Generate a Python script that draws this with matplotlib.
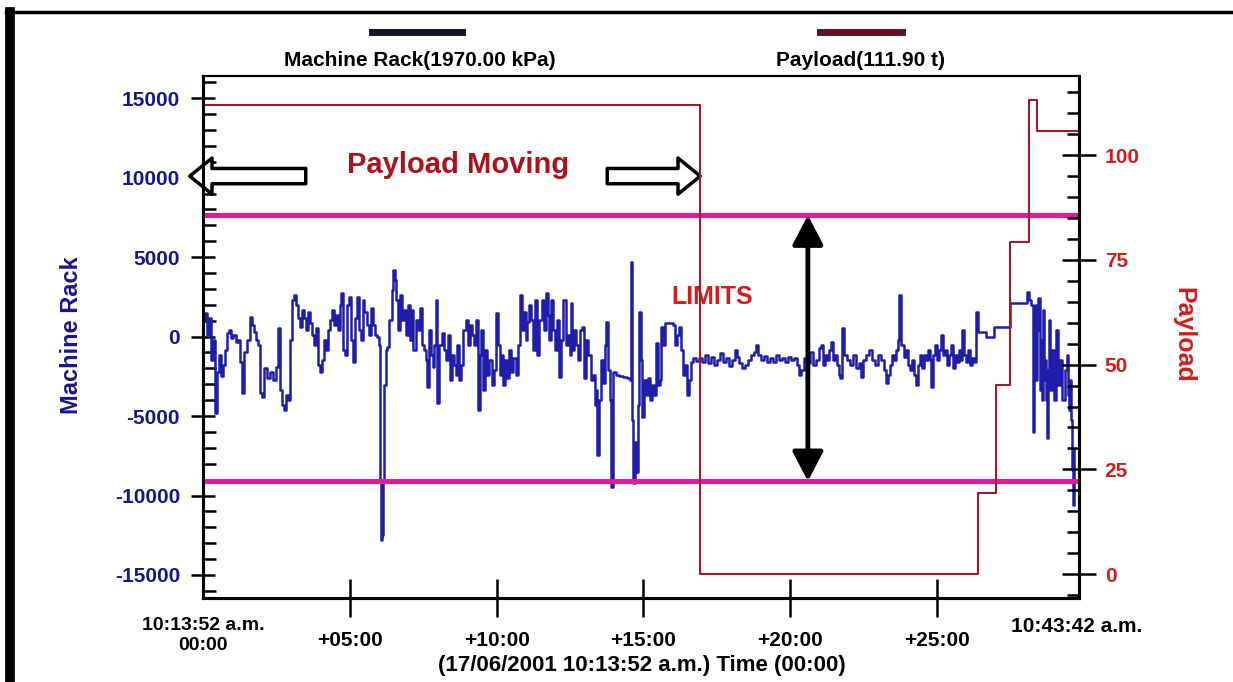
import matplotlib
matplotlib.use('Agg')
import matplotlib.pyplot as plt
from matplotlib.lines import Line2D
from matplotlib.ticker import MultipleLocator

plt.rcParams['font.family'] = ['Liberation Sans', 'DejaVu Sans']
plt.rcParams['font.weight'] = 'bold'
plt.rcParams['axes.unicode_minus'] = False

# machine rack pressure, time in seconds after 10:13:52, value in kPa
rack_t = [
    0, 4, 8, 12, 16, 20, 24, 29, 33, 37,
    41, 45, 49, 53, 57, 61, 67, 71, 75, 80,
    84, 90, 96, 100, 104, 108, 112, 116, 120, 124,
    131, 137, 143, 149, 153, 157, 161, 165, 169, 173,
    177, 182, 186, 190, 194, 198, 202, 206, 210, 214,
    218, 222, 226, 231, 235, 239, 243, 247, 251, 255,
    259, 263, 267, 271, 275, 279, 282, 286, 290, 294,
    298, 302, 306, 310, 314, 318, 322, 326, 330, 335,
    339, 343, 347, 351, 355, 359, 361, 363, 365, 367,
    369, 373, 377, 381, 386, 388, 392, 394, 398, 402,
    406, 410, 414, 418, 422, 426, 430, 435, 439, 443,
    447, 451, 455, 457, 461, 465, 469, 473, 477, 479,
    483, 488, 492, 496, 500, 504, 508, 512, 516, 520,
    524, 528, 532, 537, 541, 545, 549, 553, 557, 561,
    565, 569, 573, 577, 581, 585, 590, 594, 598, 602,
    606, 610, 614, 618, 622, 626, 630, 634, 639, 643,
    647, 651, 655, 659, 663, 667, 671, 675, 679, 683,
    687, 692, 696, 700, 704, 708, 712, 716, 720, 724,
    728, 732, 736, 741, 745, 749, 751, 755, 759, 763,
    767, 771, 775, 779, 783, 787, 792, 796, 800, 804,
    806, 810, 814, 818, 822, 824, 828, 832, 834, 838,
    843, 851, 859, 867, 873, 875, 877, 879, 883, 885,
    889, 891, 896, 898, 902, 906, 910, 914, 918, 922,
    926, 930, 934, 936, 940, 945, 953, 961, 965, 969,
    973, 977, 981, 985, 989, 993, 998, 1002, 1008, 1014,
    1020, 1026, 1032, 1038, 1044, 1051, 1057, 1063, 1069, 1075,
    1081, 1087, 1091, 1095, 1102, 1108, 1114, 1120, 1126, 1130,
    1134, 1140, 1146, 1153, 1159, 1165, 1171, 1177, 1183, 1189,
    1195, 1202, 1208, 1214, 1218, 1222, 1228, 1234, 1240, 1246,
    1253, 1259, 1263, 1267, 1271, 1275, 1279, 1283, 1287, 1291,
    1295, 1299, 1302, 1306, 1310, 1316, 1322, 1328, 1334, 1340,
    1344, 1348, 1355, 1361, 1367, 1373, 1379, 1385, 1391, 1395,
    1399, 1404, 1408, 1412, 1416, 1420, 1422, 1426, 1432, 1436,
    1440, 1444, 1448, 1452, 1457, 1461, 1465, 1469, 1473, 1477,
    1481, 1485, 1487, 1491, 1495, 1499, 1503, 1508, 1512, 1516,
    1520, 1524, 1528, 1532, 1536, 1540, 1544, 1548, 1550, 1554,
    1559, 1563, 1567, 1571, 1575, 1579, 1583, 1599, 1616, 1648,
    1650, 1681, 1683, 1687, 1691, 1695, 1697, 1699, 1701, 1703,
    1705, 1707, 1710, 1712, 1714, 1716, 1718, 1720, 1722, 1724,
    1726, 1728, 1730, 1734, 1738, 1742, 1744, 1748, 1752, 1756,
    1761, 1765, 1767, 1769, 1771, 1773, 1775, 1777, 1779,
]
rack_kpa = [
    1040, 1480, 90, 1160, -1480, -220, -4810, -2230, -1160, -2480,
    -1790, -850, 220, 410, -90, 90, -350, -220, -1600, -3550,
    -970, -220, 1230, 720, 280, -220, -530, -3550, -3810, -1980,
    -2610, -2230, -2740, -1920, 530, -3370, -4310, -4620, -3680, -3990,
    -220, 2300, 2610, 1980, 1160, 600, 1670, 1160, 410, 1540,
    850, 90, -530, 530, -1790, -2230, -1480, -220, -850, 410,
    1040, 1670, 720, 1350, 410, 1980, 2740, -850, -1160, 1980,
    2480, -220, -1600, 1160, 2480, 410, -220, 2300, 1540, 720,
    90, 1790, 720, 90, -30, -530, -9020, -12800, -12490, -9020,
    -3050, -850, -660, 1040, 2920, 4180, 3550, 2300, 410, 2610,
    1040, 1670, 90, 1980, -220, 1670, -850, 1040, 410, 1790,
    -530, -850, -1480, -3180, 410, -1160, -1920, -530, 2300, -4180,
    -530, 220, -850, -1480, 90, -2740, -1160, -1790, -2420, -530,
    -2740, -1790, 410, 1040, -530, 720, 90, -530, 1040, -4620,
    -1160, 410, -3370, -850, -2420, -1480, -3050, -2110, 1480, -530,
    -2420, -1160, -3050, -1480, -2610, -850, -2230, -1350, -2420, -530,
    2610, 410, 1540, -220, 910, 1980, 1040, -850, 2300, -1160,
    1040, 2300, 410, 2740, 1350, -220, 2300, 410, -850, 1040,
    -2550, -220, 2300, -530, 90, -1160, 2110, -850, 410, -530,
    -1480, 410, 600, -2610, -220, -1160, -2740, -2420, -4310, -3370,
    -7450, -3990, -1480, -2920, -530, 910, -2110, -3990, -9470, -2230,
    -2420, -2480, -2550, -2610, -2740, 4690, -5250, -9210, -6640, -8520,
    -4310, 1540, -1480, -5060, -2740, -3680, -2610, -3990, -3050, -3680,
    -410, -3050, -2740, 600, -530, 850, 850, 720, -530, 90,
    600, -850, -2420, -1790, -3680, -2740, -1600, -1350, -1540, -1350,
    -1600, -1160, -1670, -1290, -1790, -1480, -1040, -1600, -1350, -1860,
    -1480, -850, -1290, -1670, -1980, -1790, -1480, -1160, -970, -530,
    -1160, -1480, -1230, -1600, -1350, -1600, -1160, -1480, -1350, -1600,
    -1290, -1480, -1350, -1790, -2420, -2110, -1350, -1670, -970, -1790,
    -1480, -720, -530, -1790, -1160, -1480, -850, -350, -1480, -1160,
    -1790, -2420, -2610, 530, -1160, -1480, -1790, -1160, -1980, -1670,
    -2550, -1480, -1160, -850, -1480, -1790, -1160, -1480, -2110, -2920,
    -2420, -1790, -1160, -1480, -850, -220, 2610, -530, -1290, -850,
    -1790, -2110, -1480, -2420, -3050, -1790, -1160, -1980, -1160, -1480,
    -850, -1480, -3180, -1160, -530, -1480, -850, 90, -1160, -850,
    -1790, -1160, -530, -1980, -1160, -1600, -850, -1480, 410, -1160,
    -1600, -850, -1790, -1350, -1600, 1540, 280, -30, 600, 1980,
    2110, 2110, 2800, 2300, 1980, -2300, -6010, -850, 1980, -2740,
    410, 2420, -3370, -220, -3990, 1670, -2740, -1480, -3990, -6380,
    -2110, 1040, -3370, -850, -3990, -1790, 410, -3050, -1480, -3990,
    -2110, -1160, -3680, -4620, -2740, -5250, -8400, -10600, -7140,
]

# payload in tonnes (step changes)
payload_t = [0, 1016, 1583, 1620, 1648, 1687, 1705, 1790]
payload_tonne = [111.9, 0, 19.3, 45.2, 79.3, 113.1, 105.7, 105.7]

limits_kpa = [7640, -9100]

rack_ticks = [-15000, -10000, -5000, 0, 5000, 10000, 15000]
payload_ticks = [0, 25, 50, 75, 100]
time_ticks = [300, 600, 900, 1200, 1500]
time_labels = ['+05:00', '+10:00', '+15:00', '+20:00', '+25:00']

navy = '#17178c'
red = '#d41c1c'

fig = plt.figure(figsize=(12.33, 6.82), dpi=100)
W, H = 1233, 682
ax = fig.add_axes([203 / W, 1 - 598 / H, 876 / W, 522 / H])
ax2 = ax.twinx()

ax.plot(rack_t, rack_kpa, color='#1e1eaa', lw=1.8, drawstyle='steps-post', zorder=2)
for lim in limits_kpa:
    ax.axhline(lim, color='#e8169c', lw=3.6, zorder=3)
ax2.plot(payload_t, payload_tonne, color='#a3182a', lw=1.5, drawstyle='steps-post')

ax.set_xlim(0, 1790)
ax.set_ylim(-16450, 16400)
ax2.set_ylim(-5.7, 118.9)

ax.set_yticks(rack_ticks)
ax.yaxis.set_minor_locator(MultipleLocator(1000))
ax.set_xticks(time_ticks, time_labels)
ax2.set_yticks(payload_ticks)
ax2.yaxis.set_minor_locator(MultipleLocator(5))

ax.tick_params(axis='y', which='major', direction='inout', length=17, width=1.8,
               pad=8, labelsize=15, labelcolor=navy)
ax.tick_params(axis='y', which='minor', direction='in', length=9, width=1.8)
ax.tick_params(axis='x', which='major', direction='inout', length=28, width=1.8,
               pad=10, labelsize=15)
ax2.tick_params(axis='y', which='major', direction='inout', length=25, width=1.8,
                pad=6, labelsize=15, labelcolor=red)
ax2.tick_params(axis='y', which='minor', direction='in', length=9, width=1.8)

for a in (ax, ax2):
    for s in a.spines.values():
        s.set_linewidth(2.2)
    a.spines['top'].set_linewidth(1.5)

# time labels at the two ends
fig.text(203 / W, 1 - 626 / H, '10:13:52 a.m.', ha='center', va='center', fontsize=14)
fig.text(203 / W, 1 - 645 / H, '00:00', ha='center', va='center', fontsize=14)
fig.text(1077 / W, 1 - 627 / H, '10:43:42 a.m.', ha='center', va='center', fontsize=15)
fig.text(642 / W, 1 - 666 / H, '(17/06/2001 10:13:52 a.m.) Time (00:00)',
         ha='center', va='center', fontsize=16)

fig.text(72 / W, 1 - 335 / H, 'Machine Rack', rotation=90, ha='center', va='center',
         fontsize=17, color=navy)
fig.text(1183 / W, 1 - 335 / H, 'Payload', rotation=-90, ha='center', va='center',
         fontsize=18, color=red)

# header legend
fig.add_artist(Line2D([372 / W, 462 / W], [1 - 32 / H] * 2, lw=5, color='#15152a'))
fig.text(420 / W, 1 - 60 / H, 'Machine Rack(1970.00 kPa)', ha='center', va='center', fontsize=15)
fig.add_artist(Line2D([820 / W, 902 / W], [1 - 32 / H] * 2, lw=5, color='#5c1322'))
fig.text(860 / W, 1 - 60 / H, 'Payload(111.90 t)', ha='center', va='center', fontsize=15)

# annotations
ax.text(521, 10800, 'Payload Moving', ha='center', va='center', fontsize=21, color='#b0101a')
hollow = dict(arrowstyle='simple,head_length=0.8,head_width=1.3,tail_width=0.55',
              mutation_scale=20, fc='white', ec='black', lw=2.5, shrinkA=0, shrinkB=0)
ax.annotate('', xy=(-27, 10100), xytext=(210, 10100), arrowprops=hollow, annotation_clip=False)
ax.annotate('', xy=(1016, 10100), xytext=(826, 10100), arrowprops=hollow, annotation_clip=False)
ax.text(1040, 2480, 'LIMITS', ha='center', va='center', fontsize=18, color=red)
ax.annotate('', xy=(1236, limits_kpa[0]), xytext=(1236, limits_kpa[1]),
            arrowprops=dict(arrowstyle='<|-|>,head_length=0.9,head_width=0.47',
                            mutation_scale=20, lw=3.5, color='black',
                            shrinkA=0, shrinkB=0))

# page frame
fig.add_artist(Line2D([10 / W, 10 / W], [0, 1 - 12 / H], lw=7, color='black'))
fig.add_artist(Line2D([6 / W, 1], [1 - 12 / H] * 2, lw=2.5, color='black'))

fig.savefig('out.png', dpi=100)
